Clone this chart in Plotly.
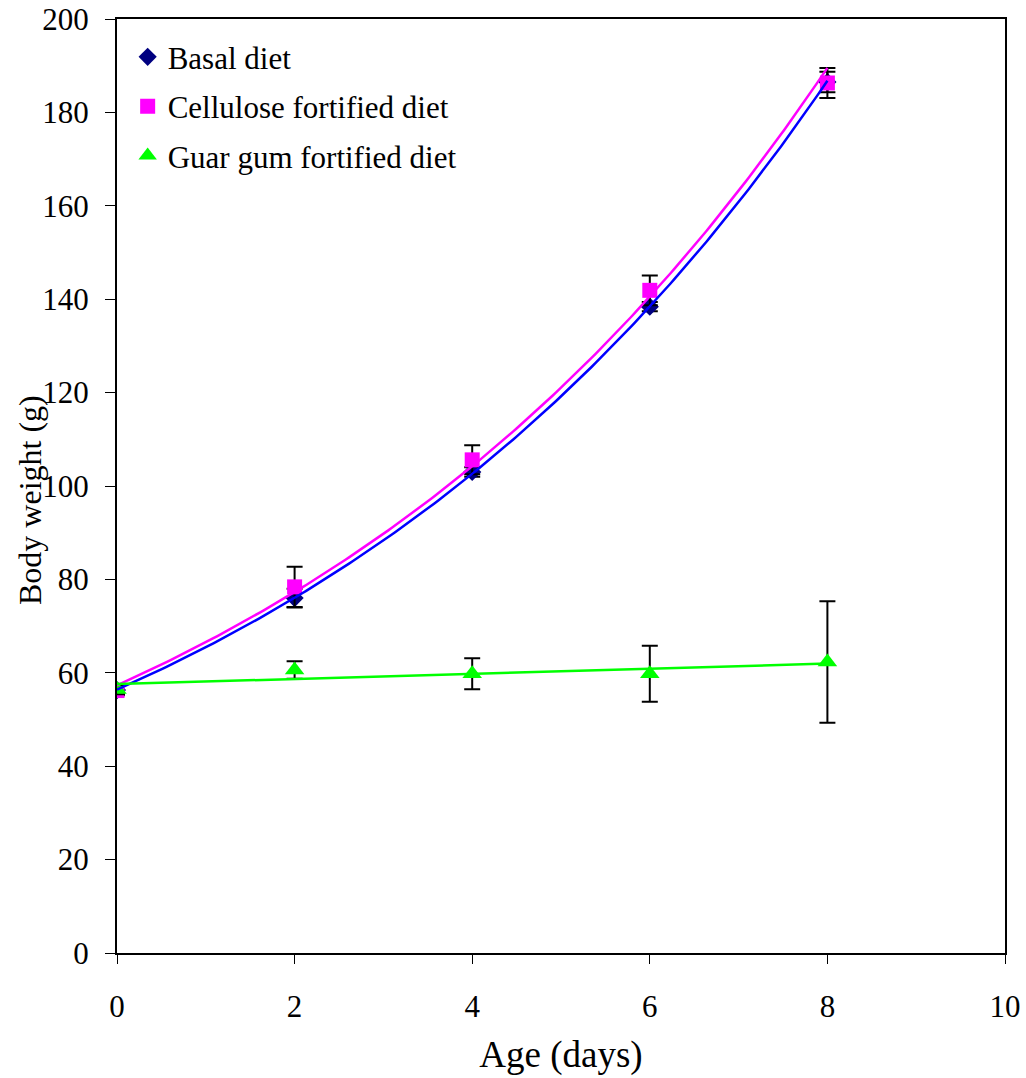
import numpy as np
import plotly.graph_objects as go

days = [0, 2, 4, 6, 8]
basal = [56.3, 76.0, 103.0, 138.4, 186.5]
basal_err = [1.0, 2.0, 1.0, 1.0, 2.2]
cellulose = [56.2, 78.4, 105.6, 141.9, 186.3]
cellulose_err = [1.0, 4.3, 3.1, 3.2, 3.2]
guar = [56.4, 60.6, 59.8, 59.8, 62.3]
guar_err = [1.0, 1.9, 3.3, 6.0, 13.0]

names = ["Basal diet", "Cellulose fortified diet", "Guar gum fortified diet"]
FONT = "Liberation Serif, Times New Roman, serif"

fig = go.Figure()

marker_specs = [
    (basal, basal_err, "diamond", "#000080", 14),
    (cellulose, cellulose_err, "square", "#FF00FF", 15),
    (guar, guar_err, "triangle-up", "#00FF00", 17),
]
for i, (name, (vals, errs, sym, col, sz)) in enumerate(zip(names, marker_specs)):
    fig.add_trace(go.Scatter(
        x=days, y=vals, mode="markers", name=name, legendgroup=f"g{i}",
        marker=dict(symbol=sym, color=col, size=sz),
        error_y=dict(type="data", array=errs, visible=True,
                     color="black", thickness=2, width=8),
    ))

# Trendlines (Excel-style): exponential for basal & cellulose, linear for guar
xs = np.linspace(0, 8, 200)
for vals, col in [(basal, "#0000FF"), (cellulose, "#FF00FF")]:
    b, a = np.polyfit(days, np.log(vals), 1)
    fig.add_trace(go.Scatter(x=xs, y=np.exp(a + b * xs), mode="lines",
                             line=dict(color=col, width=2.5), showlegend=False,
                             hoverinfo="skip"))
m, c = np.polyfit(days, guar, 1)
fig.add_trace(go.Scatter(x=xs, y=c + m * xs, mode="lines",
                         line=dict(color="#00FF00", width=2.5), showlegend=False,
                         hoverinfo="skip"))

fig.update_layout(
    width=1026, height=1078,
    margin=dict(l=117, r=21, t=19, b=125),
    paper_bgcolor="white", plot_bgcolor="white",
    font=dict(family=FONT, color="black", size=31),
    showlegend=True,
    legend=dict(x=0.012, y=0.988, xanchor="left", yanchor="top",
                bgcolor="rgba(0,0,0,0)", font=dict(size=31, family=FONT),
                itemwidth=30, tracegroupgap=6),
    xaxis=dict(range=[0, 10], tickvals=[0, 2, 4, 6, 8, 10],
               showgrid=False, zeroline=False, automargin=False,
               showline=True, linecolor="black", linewidth=2, mirror=True,
               ticks="outside", ticklen=9, tickwidth=1, tickcolor="black",
               ticklabelstandoff=16,
               title=dict(text="Age (days)", font=dict(size=37, family=FONT),
                          standoff=18)),
    yaxis=dict(range=[0, 200], tickvals=list(range(0, 201, 20)),
               showgrid=False, zeroline=False, automargin=False,
               showline=True, linecolor="black", linewidth=2, mirror=True,
               ticks="outside", ticklen=10, tickwidth=1, tickcolor="black",
               ticklabelstandoff=10),
    annotations=[dict(text="Body weight (g)", textangle=-90, showarrow=False,
                      xref="paper", yref="paper",
                      x=(30 - 117) / 888, y=(953 - 500) / 934,
                      xanchor="center", yanchor="middle",
                      font=dict(size=32, family=FONT, color="black"))],
)

fig.write_html("out.html")
